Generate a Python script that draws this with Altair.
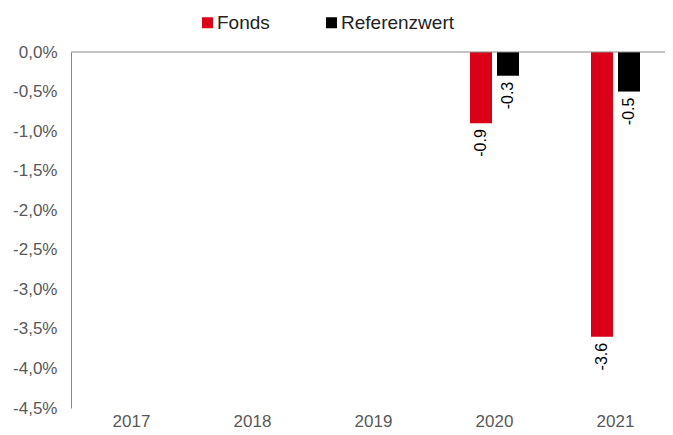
import altair as alt
import pandas as pd

years = ["2017", "2018", "2019", "2020", "2021"]
series = ["Fonds", "Referenzwert"]
fonds = [None, None, None, -0.9, -3.6]
referenz = [None, None, None, -0.3, -0.5]
colors = ["#D90017", "#000000"]
yticks = [0, -0.5, -1, -1.5, -2, -2.5, -3, -3.5, -4, -4.5]

rows = []
for i, y in enumerate(years):
    if fonds[i] is not None:
        rows.append({"year": y, "series": "Fonds", "value": fonds[i]})
    if referenz[i] is not None:
        rows.append({"year": y, "series": "Referenzwert", "value": referenz[i]})
df = pd.DataFrame(rows)
df["label"] = df["value"].map(lambda v: f"{v:.1f}")

FONT = "Liberation Sans"

xenc = alt.X("year:N", sort=years,
             scale=alt.Scale(domain=years, range=[0, 605], paddingInner=0.595, paddingOuter=0.2975),
             axis=alt.Axis(title=None, domain=False, ticks=False, labelAngle=0,
                           labelFontSize=17, labelColor="#595959", labelPadding=5,
                           labelFont=FONT))
xoff = alt.XOffset("series:N", sort=series,
                   scale=alt.Scale(domain=series, paddingInner=0.185, paddingOuter=0))
yscale = alt.Scale(domain=[-4.5, 0], nice=False, zero=True)
yenc = alt.Y("value:Q", scale=yscale,
             axis=alt.Axis(title=None, values=yticks, labelOverlap=False, labelBound=False,
                           grid=False, ticks=False, domain=True, domainColor="#888888",
                           labelFontSize=17, labelColor="#595959", labelPadding=14,
                           labelFont=FONT,
                           labelExpr="(datum.value < 0 ? '-' : '') + replace(format(abs(datum.value), '.1f'), '.', ',') + '%'"))

base = alt.Chart(df)

bars = base.mark_bar().encode(
    x=xenc, xOffset=xoff, y=yenc,
    color=alt.Color("series:N", sort=series,
                    scale=alt.Scale(domain=series, range=colors),
                    legend=alt.Legend(title=None, orient="none", direction="horizontal",
                                      legendX=127, legendY=-39, symbolType="square",
                                      symbolSize=121, labelFontSize=19, labelColor="#222222",
                                      labelFont=FONT, columnPadding=52, symbolOffset=0,
                                      labelOffset=0, symbolStrokeWidth=0)),
)

labels = base.mark_text(angle=270, align="right", baseline="middle", dx=-6,
                        fontSize=16, color="#000000", font=FONT).encode(
    x=xenc, xOffset=xoff, y=yenc, text="label:N"
)

zero = alt.Chart(pd.DataFrame({"z": [0]})).mark_rule(color="#888888", strokeWidth=1).encode(
    x=alt.value(0), x2=alt.value(610), y=alt.value(0)
)

chart = alt.layer(bars, labels, zero).properties(
    width=594, height=356,
    autosize=alt.AutoSizeParams(type="none"),
    padding={"left": 63, "top": 44, "right": 0, "bottom": 19},
).configure_view(stroke=None)

chart.save("out.html", embed_options={"renderer": "svg", "actions": False})
